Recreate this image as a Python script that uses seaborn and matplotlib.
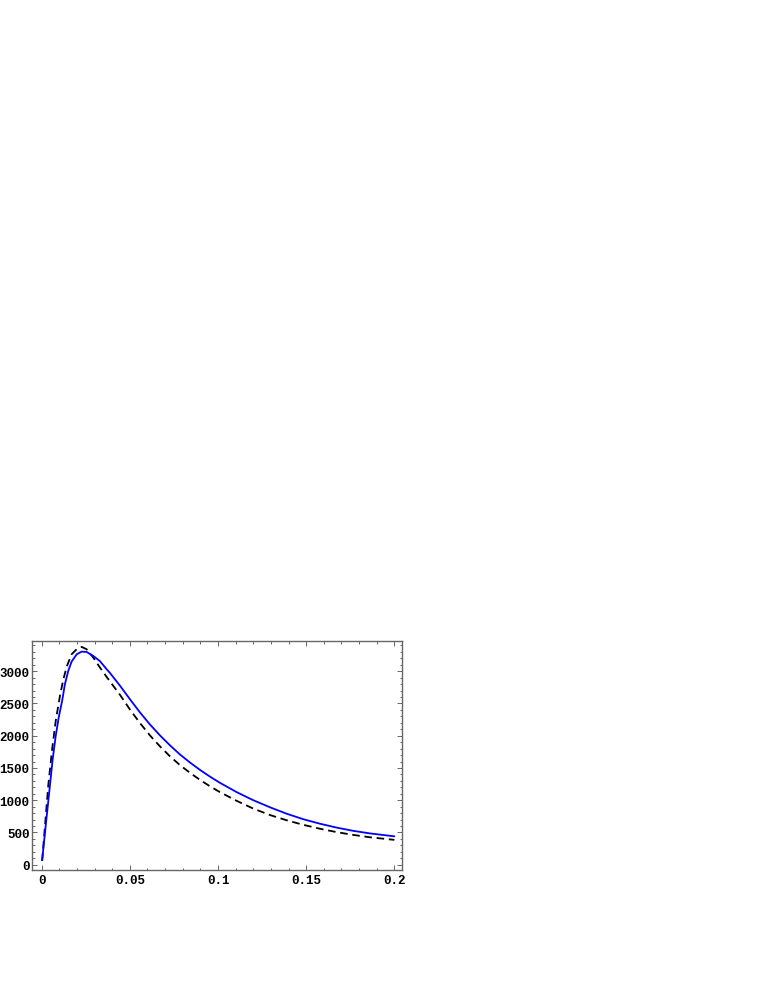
import numpy as np
import pandas as pd
import matplotlib
matplotlib.use('Agg')
import matplotlib.pyplot as plt
from matplotlib.ticker import MultipleLocator
import seaborn as sns

# values
blue_x = [0.0003, 0.0025, 0.0047, 0.0063, 0.0079, 0.0096, 0.0117, 0.0132, 0.0151,
          0.0170, 0.0199, 0.0227, 0.0255, 0.0293, 0.0331, 0.0369, 0.0387, 0.0444,
          0.0501, 0.0558, 0.0614, 0.0671, 0.0728, 0.0784, 0.0841, 0.0898, 0.0955,
          0.1011, 0.1106, 0.1200, 0.1295, 0.1390, 0.1484, 0.1579, 0.1673, 0.1767,
          0.1862, 0.2000]
blue_y = [70, 650, 1225, 1640, 1980, 2270, 2550, 2798, 3004,
          3149, 3263, 3304, 3299, 3237, 3156, 3030, 2975, 2777,
          2565, 2360, 2175, 2005, 1850, 1710, 1585, 1470, 1365,
          1270, 1125, 1000, 890, 790, 705, 635, 575, 525,
          485, 440]

dash_x = [0.0003, 0.0038, 0.0060, 0.0080, 0.0104, 0.0123, 0.0142, 0.0170, 0.0199,
          0.0227, 0.0255, 0.0293, 0.0331, 0.0369, 0.0444, 0.0501, 0.0558, 0.0614,
          0.0671, 0.0728, 0.0784, 0.0841, 0.0898, 0.0955, 0.1011, 0.1106, 0.1200,
          0.1295, 0.1390, 0.1484, 0.1579, 0.1673, 0.1767, 0.1862, 0.2000]
dash_y = [60, 1240, 1800, 2230, 2620, 2870, 3070, 3263, 3341,
          3377, 3341, 3211, 3056, 2910, 2635, 2405, 2195, 2005,
          1835, 1680, 1545, 1425, 1315, 1215, 1125, 990, 870,
          770, 688, 618, 557, 505, 462, 425, 385]

x_ticks = [0, 0.05, 0.1, 0.15, 0.2]
x_labels = ['0', '0.05', '0.1', '0.15', '0.2']
y_ticks = [0, 500, 1000, 1500, 2000, 2500, 3000]
y_labels = ['0', '500', '1000', '1500', '2000', '2500', '3000']

sns.set_style('ticks')
plt.rcParams['font.family'] = ['Liberation Mono', 'DejaVu Sans Mono']
plt.rcParams['font.weight'] = 'bold'

fig = plt.figure(figsize=(7.63, 9.87), dpi=100)
ax = fig.add_axes([0.0423, 0.1178, 0.485, 0.2315])

blue = pd.DataFrame({'x': blue_x, 'y': blue_y})
dash = pd.DataFrame({'x': dash_x, 'y': dash_y})

sns.lineplot(data=dash, x='x', y='y', ax=ax, color='black', lw=1.3,
             linestyle=(0, (4.2, 2.6)), estimator=None, sort=False)
sns.lineplot(data=blue, x='x', y='y', ax=ax, color='blue', lw=1.3,
             estimator=None, sort=False)

ax.set_xlim(-0.0053, 0.2045)
ax.set_ylim(-78, 3465)
ax.set_xticks(x_ticks)
ax.set_xticklabels(x_labels)
ax.set_yticks(y_ticks)
ax.set_yticklabels(y_labels)
ax.xaxis.set_minor_locator(MultipleLocator(0.01))
ax.yaxis.set_minor_locator(MultipleLocator(100))
ax.set_xlabel('')
ax.set_ylabel('')

for s in ax.spines.values():
    s.set_color('#666666')
    s.set_linewidth(1.0)
ax.tick_params(which='both', direction='in', top=True, right=True,
               color='#666666', width=0.7, labelsize=9, labelcolor='black')
ax.tick_params(which='major', length=3.5)
ax.tick_params(which='minor', length=1.8)
ax.tick_params(axis='y', pad=2)
ax.tick_params(axis='x', pad=3)

fig.savefig('out.png', dpi=100)
